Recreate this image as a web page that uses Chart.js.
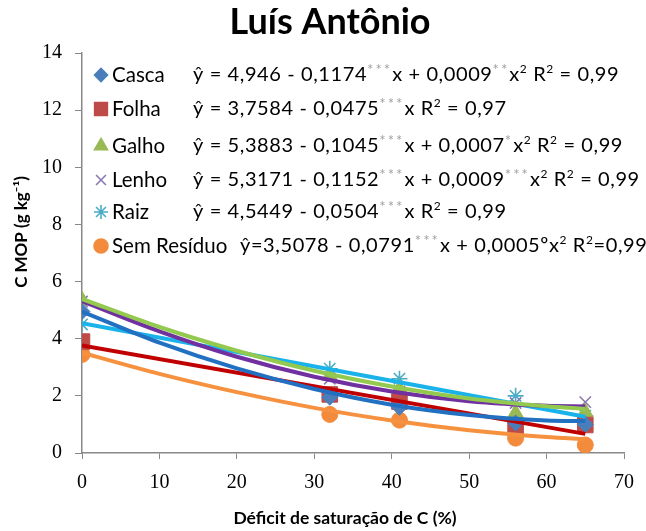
<!DOCTYPE html>
<html>
<head>
<meta charset="utf-8">
<script src="https://cdn.jsdelivr.net/npm/chart.js@4.4.1/dist/chart.umd.min.js"></script>
<style>
  html, body { margin: 0; padding: 0; background: #fff; }
  #caixa { width: 646px; height: 531px; }
</style>
</head>
<body>
<div id="caixa"><canvas id="grafico"></canvas></div>
<script>
// dados observados (marcadores)
const series = ['Casca', 'Folha', 'Galho', 'Lenho', 'Raiz', 'Sem Resíduo']
const deficit = [0, 32, 41, 56, 65]
const casca = [4.95, 1.95, 1.6, 1.05, 1.0]
const folha = [3.9, 2.05, 1.8, 0.9, 0.98]
const galho = [5.35, 2.7, 2.25, 1.4, 1.43]
const lenho = [5.3, 2.6, 2.15, 1.75, 1.78]
const raiz = [4.5, 2.95, 2.6, 2.0, 1.3]
const semResiduo = [3.45, 1.35, 1.15, 0.52, 0.28]

// linhas de tendencia
const xCurva = [0, 10, 20, 30, 40, 50, 60, 65]
const xReta = [0, 65]
const cascaTend = [4.95, 3.86, 2.96, 2.24, 1.69, 1.33, 1.14, 1.12]
const folhaTend = [3.76, 0.67]
const galhoTend = [5.39, 4.41, 3.58, 2.88, 2.33, 1.91, 1.64, 1.55]
const lenhoTend = [5.32, 4.26, 3.37, 2.67, 2.15, 1.81, 1.65, 1.63]
const raizTend = [4.54, 1.27]
const semTend = [3.51, 2.77, 2.13, 1.58, 1.14, 0.80, 0.56, 0.48]

const titulo = 'Luís Antônio'
const tituloX = 'Déficit de saturação de C (%)'
const tituloY = 'C MOP (g kg⁻¹)'
const equacoes = [
  'ŷ = 4,946 - 0,1174^{***}x + 0,0009^{**}x^{2} R^{2} = 0,99',
  'ŷ = 3,7584 - 0,0475^{***}x R^{2} = 0,97',
  'ŷ = 5,3883 - 0,1045^{***}x + 0,0007^{*}x^{2} R^{2} = 0,99',
  'ŷ = 5,3171 - 0,1152^{***}x + 0,0009^{***}x^{2} R^{2} = 0,99',
  'ŷ = 4,5449 - 0,0504^{***}x R^{2} = 0,99',
  'ŷ=3,5078 - 0,0791^{***}x + 0,0005ºx^{2} R^{2}=0,99'
]
const xTicks = [0, 10, 20, 30, 40, 50, 60, 70]
const yTicks = [0, 2, 4, 6, 8, 10, 12, 14]

const pares = (xs, ys) => xs.map((x, i) => ({ x: x, y: ys[i] }))

const estilos = [
  { ponto: 'rectRot', cor: '#4a7ebb', linha: '#2270c2', r: 8, rl: 6.5 },
  { ponto: 'rect', cor: '#be4b48', linha: '#c00000', r: 11, rl: 9 },
  { ponto: 'triangle', cor: '#98b954', linha: '#92c94e', r: 9, rl: 7.5 },
  { ponto: 'crossRot', cor: '#8a78b0', linha: '#7030a0', r: 8, rl: 7 },
  { ponto: 'star', cor: '#4bacc6', linha: '#1ab2ea', r: 8, rl: 7 },
  { ponto: 'circle', cor: '#f38b3d', linha: '#f6913f', r: 8, rl: 7 }
]

const obs = [casca, folha, galho, lenho, raiz, semResiduo]
const tend = [
  [xCurva, cascaTend], [xReta, folhaTend], [xCurva, galhoTend],
  [xCurva, lenhoTend], [xReta, raizTend], [xCurva, semTend]
]

const datasets = []
series.forEach((nome, i) => {
  const e = estilos[i]
  datasets.push({
    label: nome,
    data: pares(deficit, obs[i]),
    showLine: false,
    pointStyle: e.ponto,
    pointRadius: e.r,
    pointBackgroundColor: e.cor,
    pointBorderColor: e.cor,
    pointBorderWidth: (e.ponto === 'crossRot' || e.ponto === 'star') ? 1.6 : 1,
    order: 2
  })
})
series.forEach((nome, i) => {
  datasets.push({
    label: nome + ' tendência',
    data: pares(tend[i][0], tend[i][1]),
    borderColor: estilos[i].linha,
    borderWidth: 4,
    pointRadius: 0,
    cubicInterpolationMode: 'monotone',
    order: 1
  })
})

function textoRico(ctx, str, x, y, tam) {
  const partes = str.split(/(\^\{[^}]*\})/)
  for (const p of partes) {
    if (!p) continue
    if (p.startsWith('^{')) {
      const t = p.slice(2, -1)
      const ast = t.includes('*')
      ctx.font = ast ? '15px Lato' : `${Math.round(tam * 0.62)}px Lato`
      ctx.letterSpacing = ast ? '2px' : '0.6px'
      ctx.fillStyle = ast ? '#a0a0a0' : '#000'
      ctx.fillText(t, x, y - tam * (ast ? 0.22 : 0.3))
      x += ctx.measureText(t).width
    } else {
      ctx.font = `${tam}px Lato`
      ctx.letterSpacing = '0.6px'
      ctx.fillStyle = '#000'
      ctx.fillText(p, x, y)
      x += ctx.measureText(p).width
    }
  }
  ctx.letterSpacing = '0px'
}

const legendaPlugin = {
  id: 'legenda',
  afterDraw(chart) {
    const ctx = chart.ctx
    const linhas = [75, 109, 146, 180, 212, 246]
    ctx.save()
    ctx.textBaseline = 'middle'
    ctx.textAlign = 'center'
    ctx.fillStyle = '#000'
    ctx.font = 'bold 36px Lato'
    ctx.fillText(titulo, 330, 22)
    ctx.font = 'bold 17.5px Lato'
    ctx.fillText(tituloX, 345, 518)
    ctx.save()
    ctx.translate(22, 232)
    ctx.rotate(-Math.PI / 2)
    ctx.font = 'bold 17px Lato'
    ctx.fillText(tituloY, 0, 0)
    ctx.restore()
    ctx.textAlign = 'left'
    series.forEach((nome, i) => {
      const e = estilos[i]
      const y = linhas[i]
      ctx.fillStyle = e.cor
      ctx.strokeStyle = e.cor
      ctx.lineWidth = 1.6
      Chart.helpers.drawPoint(ctx, { pointStyle: e.ponto, radius: e.rl, rotation: 0, borderWidth: 1.6 }, 101, y)
      ctx.font = '20.5px Lato'
      ctx.fillStyle = '#000'
      ctx.fillText(nome, 112, y)
      textoRico(ctx, equacoes[i], i === 5 ? 240 : 193, y, 20)
    })
    ctx.restore()
  }
}

new Chart(document.querySelector('#grafico'), {
  type: 'line',
  data: { datasets: datasets },
  options: {
    responsive: true,
    maintainAspectRatio: false,
    animation: false,
    layout: { padding: { left: 0, right: 21, top: 53, bottom: 0 } },
    plugins: {
      legend: { display: false },
      tooltip: { enabled: false },
      title: { display: false }
    },
    scales: {
      x: {
        type: 'linear',
        min: 0,
        max: 70,
        afterBuildTicks: s => { s.ticks = xTicks.map(v => ({ value: v })) },
        afterFit: s => { s.height = 78 },
        ticks: { color: '#000', padding: 12, font: { family: 'Liberation Serif', size: 20 } },
        grid: { drawOnChartArea: false, tickLength: 6, color: '#888' },
        border: { color: '#888', width: 1.5 }
      },
      y: {
        min: 0,
        max: 14,
        afterBuildTicks: s => { s.ticks = yTicks.map(v => ({ value: v })) },
        afterFit: s => { s.width = 82 },
        ticks: { color: '#000', padding: 13, font: { family: 'Liberation Serif', size: 20 } },
        grid: { drawOnChartArea: false, tickLength: 7, color: '#888' },
        border: { color: '#888', width: 1.5 }
      }
    }
  },
  plugins: [legendaPlugin]
})
</script>
</body>
</html>
